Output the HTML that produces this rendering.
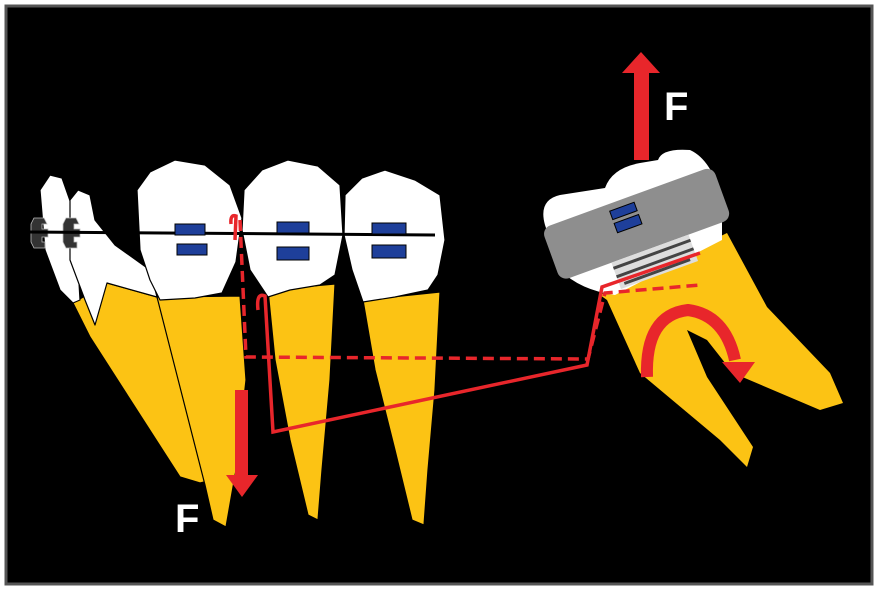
<!DOCTYPE html>
<html><head><style>
html,body{margin:0;padding:0;background:#fff;}
svg{display:block;}
</style></head><body>
<svg width="878" height="590" viewBox="0 0 878 590" xmlns="http://www.w3.org/2000/svg">
<rect x="0" y="0" width="878" height="590" fill="#fff"/>
<rect x="6" y="6" width="866" height="578" fill="#000" stroke="#555" stroke-width="3"/>
<g stroke="#000" stroke-width="1.2" stroke-linejoin="round">
<polygon points="73,303 107,283 157,297 213,480 200,483 180,477 90,337" fill="#fcc314"/>
<polygon points="40,190 50,175 62,178 75,215 80,300 73,303 60,290 45,250" fill="#fff"/>
<polygon points="70,200 78,190 90,195 95,220 115,245 150,270 157,297 107,283 95,325 85,300 70,260" fill="#fff"/>
<polygon points="157,297 240,296 246,380 236,470 226,527 213,520 205,485" fill="#fcc314"/>
<polygon points="137,190 150,172 175,160 205,165 230,185 242,218 236,262 222,293 195,298 160,300 150,280 140,250" fill="#fff"/>
<polygon points="268,290 335,284 330,380 322,470 318,520 308,515 290,440 275,360" fill="#fcc314"/>
<polygon points="244,190 262,170 288,160 318,166 340,185 343,235 335,275 320,285 290,290 268,297 250,270 242,230" fill="#fff"/>
<polygon points="363,300 440,292 435,390 428,470 424,525 412,520 395,450 375,370" fill="#fcc314"/>
<polygon points="345,195 362,178 385,170 415,180 440,195 445,240 438,275 428,290 395,297 363,302 352,270 344,235" fill="#fff"/>
</g>
<g fill="#333" stroke="#bbb" stroke-width="0.8">
<path d="M34,218 h10 l3,6 h-5 v5 h6 v8 h-6 v5 h3 v6 h-11 l-3,-6 v-18z"/>
<path d="M66,218 h10 l3,6 h-5 v5 h6 v8 h-6 v5 h3 v6 h-11 l-3,-6 v-18z"/>
</g>
<line x1="28" y1="232" x2="435" y2="235" stroke="#000" stroke-width="3"/>
<g fill="#1e3f9a" stroke="#000" stroke-width="1">
<rect x="175" y="224" width="30" height="11"/><rect x="177" y="244" width="30" height="11"/>
<rect x="277" y="222" width="32" height="11"/><rect x="277" y="247" width="32" height="13"/>
<rect x="372" y="223" width="34" height="11"/><rect x="372" y="245" width="34" height="13"/>
</g>
<!-- molar -->
<polygon points="600,295 727,233 767,307 830,373 843,403 820,410 733,373 707,340 687,330 707,377 753,447 747,467 720,440 640,373 607,300" fill="#fcc314"/>
<path d="M545,225 Q538,200 560,195 L605,188 Q612,168 640,163 L658,160 Q662,148 690,150 Q712,160 722,200 L722,240 L615,295 Q580,290 560,270 Z" fill="#fff"/>
<g transform="rotate(-20 636 225)">
<rect x="546" y="196" width="182" height="56" rx="9" fill="#8e8e8e"/>
<rect x="616" y="203" width="26" height="9" fill="#1e3f9a" stroke="#000"/>
<rect x="616" y="216" width="26" height="10" fill="#1e3f9a" stroke="#000"/>
<rect x="600" y="252" width="82" height="28" fill="#ddd"/>
<line x1="600" y1="258" x2="682" y2="258" stroke="#444" stroke-width="3"/>
<line x1="600" y1="267" x2="682" y2="267" stroke="#444" stroke-width="3"/>
<line x1="605" y1="276" x2="675" y2="276" stroke="#444" stroke-width="3"/>
</g>
<g fill="none" stroke="#e8262b" stroke-width="3.5">
<path d="M231,224 Q230,214 236,216 L235,240"/>
<path d="M240,220 L246,357 L588,359 L605,293 L700,285" stroke-dasharray="11,6"/>
<path d="M258,310 Q256,292 265,296 L273,432 L587,365 L602,287 L700,253"/>
</g>
<g fill="#e8262b">
<rect x="634" y="70" width="15" height="90"/>
<polygon points="622,73 641,52 660,73"/>
<rect x="235" y="390" width="13" height="86"/>
<polygon points="226,475 242,497 258,475"/>
</g>
<path d="M647,377 Q645,315 688,310 Q725,315 735,360" fill="none" stroke="#e8262b" stroke-width="12"/>
<polygon points="722,362 755,362 740,383" fill="#e8262b"/>
<g font-family="Liberation Sans, sans-serif" font-weight="bold" fill="#fff" font-size="40">
<text x="664" y="120">F</text>
<text x="175" y="532">F</text>
</g>
</svg>
</body></html>
